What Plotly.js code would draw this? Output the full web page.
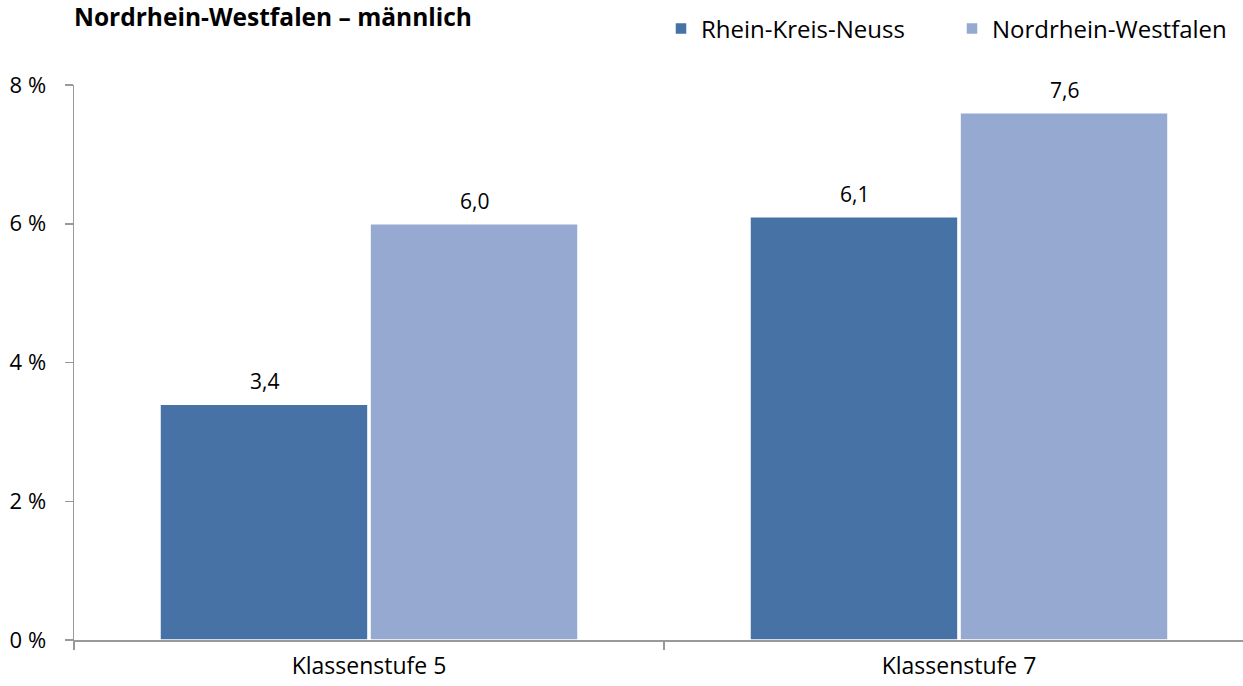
<!DOCTYPE html>
<html><head><meta charset="utf-8">
<script src="https://cdn.plot.ly/plotly-3.0.1.min.js"></script>
<style>html,body{margin:0;padding:0;background:#fff}#chart{width:1243px;height:686px}</style>
</head><body><div id="chart"></div>
<script>
const categories = ['Klassenstufe 5', 'Klassenstufe 7'];
const seriesNames = ['Rhein-Kreis-Neuss', 'Nordrhein-Westfalen'];
const rheinKreisNeuss = [3.4, 6.1];
const nordrheinWestfalen = [6.0, 7.6];
const yTickVals = [0, 2, 4, 6, 8];
const yTickText = ['0 %', '2 %', '4 %', '6 %', '8 %'];
const chartTitle = 'Nordrhein-Westfalen – männlich';

const FONT = 'Open Sans, Noto Sans, sans-serif';
const colors = ['#4672A5', '#95A9D1'];
const series = [rheinKreisNeuss, nordrheinWestfalen];

const traces = series.map((vals, i) => ({
  type: 'bar', name: seriesNames[i], x: categories, y: vals,
  marker: {color: colors[i], line: {color: '#ffffff', width: 1.5}},
  hoverinfo: 'skip'
}));

const annotations = [];
series.forEach((vals, i) => {
  vals.forEach((v, j) => {
    annotations.push({
      x: categories[j], y: v, xref: 'x', yref: 'y',
      text: v.toFixed(1).replace('.', ','),
      showarrow: false, xshift: (i === 0 ? -105 : 105), yshift: 23,
      font: {family: FONT, size: 21, color: '#000'}
    });
  });
});
annotations.push({
  xref: 'paper', yref: 'paper', x: -0.002, y: 1, xanchor: 'left', yanchor: 'bottom',
  yshift: 50, showarrow: false, text: '<b>' + chartTitle + '</b>',
  font: {family: FONT, size: 24.5, color: '#000'}
});

const layout = {
  width: 1243, height: 686,
  margin: {l: 74, r: 0, t: 85, b: 46},
  paper_bgcolor: '#fff', plot_bgcolor: '#fff',
  separators: ', ',
  barmode: 'group', bargap: 0.288, bargroupgap: 0.01,
  showlegend: true,
  legend: {orientation: 'h', x: 0.527, xanchor: 'left', y: 0.925, yanchor: 'bottom',
           yref: 'container', font: {family: FONT, size: 24, color: '#000'},
           itemwidth: 30, entrywidth: 246, tracegroupgap: 0},
  xaxis: {
    type: 'category', range: [-0.5, -0.5 + (1243 - 74) / 590],
    tickson: 'boundaries', ticks: 'outside', ticklen: 8, tickcolor: '#999', tickwidth: 1.5,
    showline: true, linecolor: '#999', linewidth: 1.5, showgrid: false, zeroline: false,
    ticklabelstandoff: 5,
    tickfont: {family: FONT, size: 23, color: '#000'}, fixedrange: true
  },
  yaxis: {
    range: [0, 8], tickvals: yTickVals, ticktext: yTickText,
    ticks: 'outside', ticklen: 8, tickcolor: '#999', tickwidth: 1.5,
    showline: true, linecolor: '#999', linewidth: 1.5, showgrid: false, zeroline: false,
    ticklabelstandoff: 14,
    tickfont: {family: FONT, size: 22, color: '#000'}, fixedrange: true
  },
  annotations: annotations
};
Plotly.newPlot('chart', traces, layout, {displayModeBar: false, staticPlot: true});
</script></body></html>
